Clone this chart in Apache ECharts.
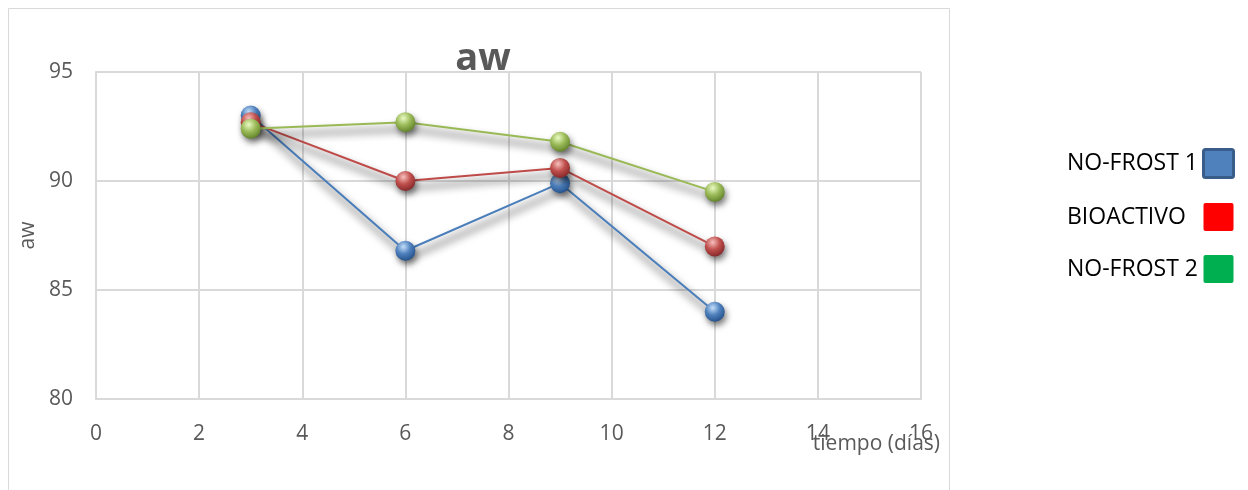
<!DOCTYPE html>
<html>
<head>
<meta charset="utf-8">
<style>
  html, body { margin: 0; padding: 0; background: #ffffff; }
  #chart { width: 1248px; height: 490px; }
</style>
<script src="https://cdn.jsdelivr.net/npm/echarts@6/dist/echarts.min.js"></script>
</head>
<body>
<div id="chart"></div>
<script>
// Storage time in days
const days = [3, 6, 9, 12];
// Water activity (aw) for each treatment
const noFrost1 = [93.0, 86.8, 89.9, 84.0];
const bioactivo = [92.7, 90.0, 90.6, 87.0];
const noFrost2 = [92.4, 92.7, 91.8, 89.5];
const seriesNames = ['NO-FROST 1', 'BIOACTIVO', 'NO-FROST 2'];
const yTicks = [80, 85, 90, 95];
const xTicks = [0, 2, 4, 6, 8, 10, 12, 14, 16];
const xAxisTitle = 'tiempo (días)';

const FONT = '"Open Sans", "Liberation Sans", sans-serif';
const TEXT = '#595959';
const GRID = '#d9d9d9';
const AXIS_FS = 21;

function pairs(vals) {
  return days.map((d, i) => [d, vals[i]]);
}

// Glossy sphere fill for markers
function sphere(light, base, dark) {
  return {
    type: 'radial', x: 0.4, y: 0.3, r: 0.72,
    colorStops: [
      { offset: 0, color: light },
      { offset: 0.5, color: base },
      { offset: 1, color: dark }
    ]
  };
}

const styles = [
  { line: '#4a7ebb', fill: sphere('#c4defa', '#4f81bd', '#24508a') },
  { line: '#be4b48', fill: sphere('#f7c0be', '#c0504d', '#85282a') },
  { line: '#98b954', fill: sphere('#eafac4', '#9bbb59', '#62822a') }
];
const values = [noFrost1, bioactivo, noFrost2];

const series = seriesNames.map((name, k) => ({
  name: name,
  type: 'line',
  data: pairs(values[k]),
  symbol: 'circle',
  symbolSize: 20,
  z: 2 + k,
  lineStyle: {
    color: styles[k].line, width: 2,
    shadowColor: 'rgba(0,0,0,0.95)', shadowBlur: 8,
    shadowOffsetX: 3, shadowOffsetY: 7
  },
  itemStyle: {
    color: styles[k].fill, borderWidth: 0,
    shadowColor: 'rgba(0,0,0,0.5)', shadowBlur: 6,
    shadowOffsetX: 2, shadowOffsetY: 4
  },
  emphasis: { disabled: true }
}));

const legendColors = [
  { color: '#4f81bd', borderColor: '#385d8a', borderWidth: 3 },
  { color: '#ff0000', borderColor: '#ff0000', borderWidth: 0 },
  { color: '#00b050', borderColor: '#00b050', borderWidth: 0 }
];

const chart = echarts.init(document.getElementById('chart'), null, { renderer: 'canvas' });
chart.setOption({
  animation: false,
  backgroundColor: '#ffffff',
  title: {
    text: 'aw',
    left: 478, top: 35,
    textAlign: 'center',
    textStyle: { fontFamily: FONT, fontSize: 38, fontWeight: 'bold', color: TEXT }
  },
  legend: {
    orient: 'vertical',
    left: 1067, top: 148,
    padding: 0,
    align: 'right',
    itemWidth: 31, itemHeight: 28,
    itemGap: 24,
    icon: 'path://M2,0 L28,0 Q30,0 30,2 L30,26 Q30,28 28,28 L2,28 Q0,28 0,26 L0,2 Q0,0 2,0 Z',
    selectedMode: false,
    formatter: n => '{t|' + n + '}',
    textStyle: {
      fontFamily: FONT, fontSize: 23, color: '#000000',
      rich: { t: { width: 131, align: 'left', fontFamily: FONT, fontSize: 23, color: '#000000' } }
    },
    data: seriesNames.map((n, i) => ({ name: n, itemStyle: legendColors[i] }))
  },
  grid: { left: 96, right: 327, top: 72, bottom: 91, containLabel: false },
  xAxis: {
    type: 'value', min: 0, max: 16, interval: 2,
    axisLine: { show: true, lineStyle: { color: GRID, width: 2 } },
    axisTick: { show: false },
    axisLabel: {
      fontFamily: FONT, fontSize: AXIS_FS, color: TEXT, margin: 25,
      formatter: v => (xTicks.includes(v) ? String(v) : '')
    },
    splitLine: { show: true, lineStyle: { color: GRID, width: 2 } }
  },
  yAxis: {
    type: 'value', min: 80, max: 95, interval: 5,
    name: 'aw',
    nameLocation: 'middle', nameGap: 57, nameRotate: 90,
    nameTextStyle: { fontFamily: FONT, fontSize: AXIS_FS, color: TEXT },
    axisLine: { show: true, lineStyle: { color: GRID, width: 2 } },
    axisTick: { show: false },
    axisLabel: {
      fontFamily: FONT, fontSize: AXIS_FS, color: TEXT, margin: 23,
      formatter: v => (yTicks.includes(v) ? String(v) : '')
    },
    splitLine: { show: true, lineStyle: { color: GRID, width: 2 } }
  },
  series: series
});

// Chart frame and the x-axis title, anchored to the end of the x axis
const axisEnd = chart.convertToPixel({ gridIndex: 0 }, [16, 80]);
chart.setOption({
  graphic: [
    {
      type: 'rect',
      shape: { x: 8.5, y: 8.5, width: 941, height: 500 },
      style: { fill: 'none', stroke: GRID, lineWidth: 1 },
      silent: true, z: -1
    },
    {
      type: 'text',
      x: axisEnd[0] + 19, y: axisEnd[1] + 45,
      style: {
        text: xAxisTitle, fontFamily: FONT, fontSize: AXIS_FS, fill: TEXT,
        align: 'right', verticalAlign: 'middle'
      },
      silent: true, z: 10
    }
  ]
});
</script>
</body>
</html>
